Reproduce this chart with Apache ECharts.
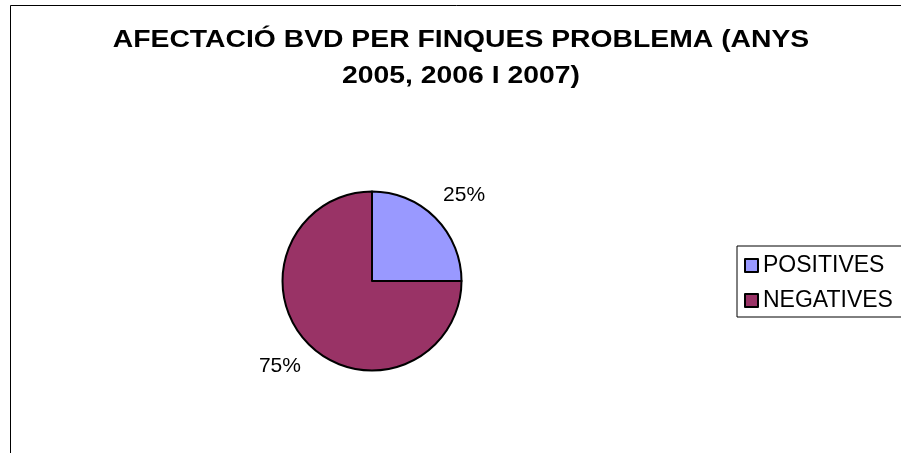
<!DOCTYPE html>
<html>
<head>
<meta charset="utf-8">
<script src="https://cdn.jsdelivr.net/npm/echarts@6/dist/echarts.min.js"></script>
<style>
html,body{margin:0;padding:0;background:#fff;}
#chart{width:901px;height:453px;}
</style>
</head>
<body>
<div id="chart"></div>
<script>
const titleText = 'AFECTACIÓ BVD PER FINQUES PROBLEMA (ANYS\n2005, 2006 I 2007)';
const categories = ['POSITIVES', 'NEGATIVES'];
const values = [25, 75];
const colors = ['#9999FF', '#993366'];

const chart = echarts.init(document.getElementById('chart'), null, {renderer: 'canvas'});
const font = '"Liberation Sans", Arial, sans-serif';

chart.setOption({
  animation: false,
  backgroundColor: '#fff',
  legend: {
    orient: 'vertical',
    left: 737,
    top: 246,
    padding: [7.5, 20, 4.5, 7],
    borderColor: '#000',
    borderWidth: 1,
    itemGap: 11,
    itemWidth: 13,
    itemHeight: 13,
    icon: 'rect',
    selectedMode: false,
    data: categories,
    itemStyle: {borderColor: '#000', borderWidth: 2},
    textStyle: {fontFamily: font, fontSize: 23, lineHeight: 24, color: '#000'}
  },
  graphic: [{
    type: 'rect',
    shape: {x: 10.5, y: 5.5, width: 1000, height: 1000},
    style: {fill: 'none', stroke: '#000', lineWidth: 1},
    silent: true,
    z: -1
  }, {
    type: 'text',
    x: 461,
    y: 22,
    scaleX: 1.18,
    silent: true,
    style: {
      text: titleText,
      fontFamily: font,
      fontWeight: 'bold',
      fontSize: 24,
      lineHeight: 36,
      align: 'center',
      verticalAlign: 'top',
      fill: '#000'
    }
  }],
  series: [{
    type: 'pie',
    center: [372, 281],
    radius: 89.5,
    startAngle: 90,
    clockwise: true,
    avoidLabelOverlap: false,
    silent: true,
    emphasis: {disabled: true},
    data: categories.map((c, i) => ({name: c, value: values[i], itemStyle: {color: colors[i]}})),
    itemStyle: {borderColor: '#000', borderWidth: 2},
    label: {
      show: true,
      position: 'outside',
      formatter: '{d}%',
      fontFamily: font,
      fontSize: 21,
      color: '#000',
      distanceToLabelLine: 0
    },
    labelLine: {show: false, length: 31.5, length2: -14.5}
  }]
});
</script>
</body>
</html>
